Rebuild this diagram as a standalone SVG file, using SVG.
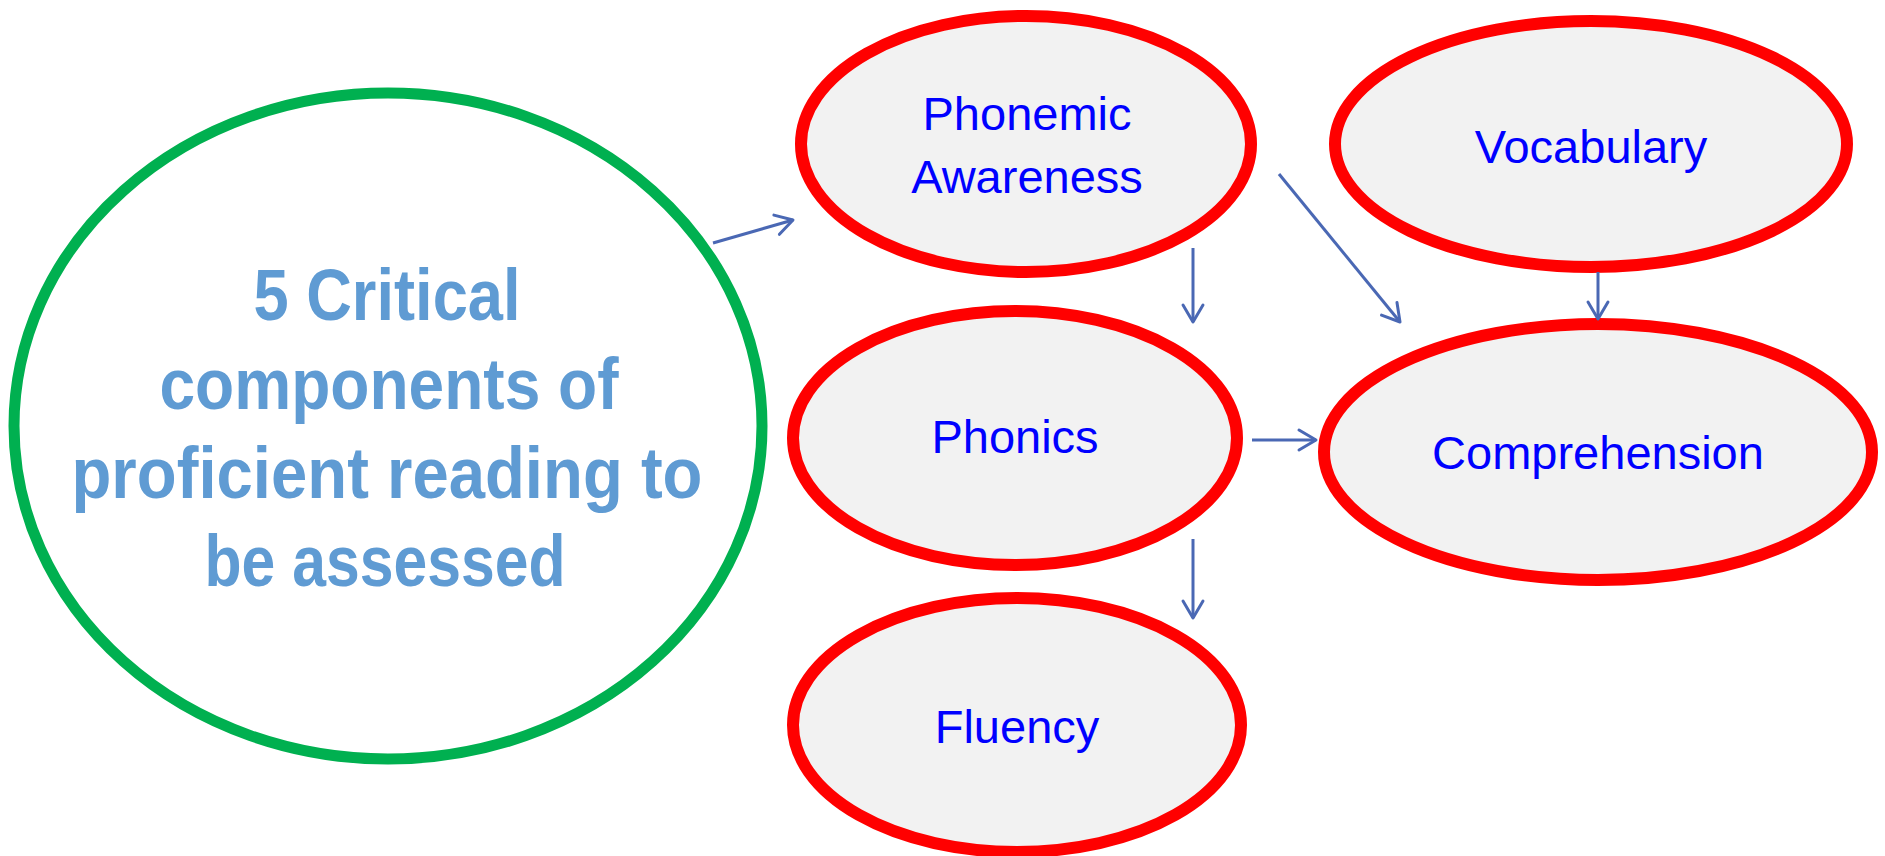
<svg xmlns="http://www.w3.org/2000/svg" width="1885" height="856" viewBox="0 0 1885 856">
<style>
.bg{fill:#ffffff}
.main{fill:#ffffff;stroke:#00B050;stroke-width:11}
.comp{fill:#F2F2F2;stroke:#FF0000;stroke-width:12}
.title{font-family:"Liberation Sans",Arial,sans-serif;font-weight:bold;font-size:72px;fill:#5F9BD3;text-anchor:middle}
.lbl{font-family:"Liberation Sans",Arial,sans-serif;font-size:47px;fill:#0000FF;text-anchor:middle}
.conn{stroke:#4A68B4;stroke-width:3;fill:none;marker-end:url(#arr)}
</style>
<defs>
<marker id="arr" markerUnits="userSpaceOnUse" markerWidth="26" markerHeight="26" refX="20" refY="11" orient="auto" viewBox="0 0 26 22">
<path d="M3,1 L20,11 L3,21" fill="none" stroke="#4A68B4" stroke-width="3" stroke-linecap="round" stroke-linejoin="round"/>
</marker>
</defs>
<rect class="bg" x="0" y="0" width="1885" height="856"/>
<g id="node-main">
<ellipse class="main" cx="388" cy="426" rx="374" ry="333"/>
<text class="title" x="387" y="320" textLength="267" lengthAdjust="spacingAndGlyphs">5 Critical</text>
<text class="title" x="389" y="409" textLength="459" lengthAdjust="spacingAndGlyphs">components of</text>
<text class="title" x="387" y="498" textLength="631" lengthAdjust="spacingAndGlyphs">proficient reading to</text>
<text class="title" x="385" y="586" textLength="361" lengthAdjust="spacingAndGlyphs">be assessed</text>
</g>
<g id="node-phonemic">
<ellipse class="comp" cx="1026" cy="144" rx="225" ry="128"/>
<text class="lbl" x="1027" y="130">Phonemic</text>
<text class="lbl" x="1027" y="193">Awareness</text>
</g>
<g id="node-vocabulary">
<ellipse class="comp" cx="1591" cy="144" rx="256" ry="123"/>
<text class="lbl" x="1591" y="163">Vocabulary</text>
</g>
<g id="node-phonics">
<ellipse class="comp" cx="1015" cy="438" rx="222" ry="127"/>
<text class="lbl" x="1015" y="453">Phonics</text>
</g>
<g id="node-comprehension">
<ellipse class="comp" cx="1598" cy="452" rx="274" ry="128"/>
<text class="lbl" x="1598" y="469">Comprehension</text>
</g>
<g id="node-fluency">
<ellipse class="comp" cx="1017" cy="725" rx="224" ry="127"/>
<text class="lbl" x="1017" y="743">Fluency</text>
</g>
<g id="connectors">
<line class="conn" x1="713" y1="243" x2="793" y2="220"/>
<line class="conn" x1="1193" y1="248" x2="1193" y2="322"/>
<line class="conn" x1="1279" y1="174" x2="1400" y2="322"/>
<line class="conn" x1="1598" y1="272" x2="1598" y2="319"/>
<line class="conn" x1="1252" y1="440" x2="1316" y2="440"/>
<line class="conn" x1="1193" y1="539" x2="1193" y2="618"/>
</g>
</svg>
